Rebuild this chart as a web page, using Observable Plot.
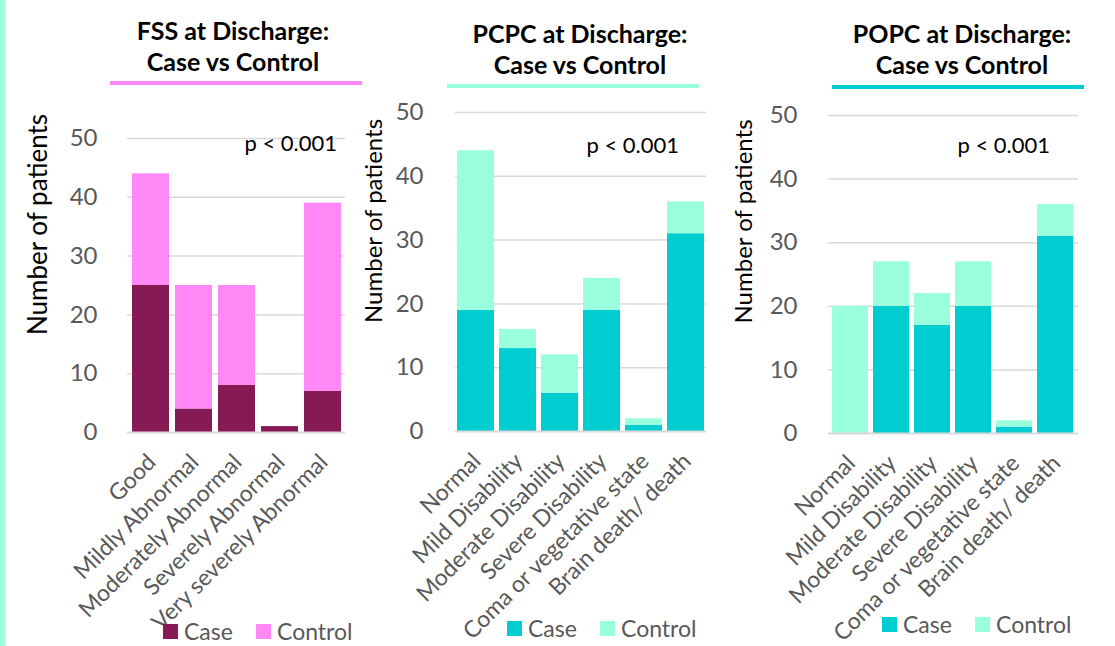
<!DOCTYPE html>
<html><head><meta charset="utf-8">
<script src="https://cdn.jsdelivr.net/npm/d3@7"></script>
<script src="https://cdn.jsdelivr.net/npm/@observablehq/plot@0.6"></script>
<style>
body{margin:0;background:#fff;}
#root{position:relative;width:1115px;height:646px;overflow:hidden;font-family:Lato,"Open Sans",sans-serif;}
.stripe{position:absolute;left:0;top:0;width:5px;height:646px;background:#99FFDD;}
.title{position:absolute;width:320px;text-align:center;font-weight:700;font-size:25px;line-height:31px;color:#000;white-space:nowrap;}
.uline{position:absolute;height:4px;}
.plotbox{position:absolute;top:0;}
.legend{position:absolute;display:flex;align-items:center;font-size:23px;line-height:18px;height:18px;color:#595959;white-space:nowrap;}
.legend .sw{width:15px;height:15px;display:inline-block;}
</style></head>
<body><div id="root"><div class="stripe"></div></div>
<script>
// ---- data ----
const seriesNames = ["Case", "Control"];
const yTicks = [0, 10, 20, 30, 40, 50];
const yLabel = "Number of patients";
const pText = "p < 0.001";

const fssTitle = ["FSS at Discharge:", "Case vs Control"];
const fssCategories = ["Good", "Mildly Abnormal", "Moderately Abnormal", "Severely Abnormal", "Very severely Abnormal"];
const fssCase = [25, 4, 8, 1, 7];
const fssControl = [19, 21, 17, 0, 32];

const outcomeCategories = ["Normal", "Mild Disability", "Moderate Disability", "Severe Disability", "Coma or vegetative state", "Brain death/ death"];

const pcpcTitle = ["PCPC at Discharge:", "Case vs Control"];
const pcpcCase = [19, 13, 6, 19, 1, 31];
const pcpcControl = [25, 3, 6, 5, 1, 5];

const popcTitle = ["POPC at Discharge:", "Case vs Control"];
const popcCase = [0, 20, 17, 20, 1, 31];
const popcControl = [20, 7, 5, 7, 1, 5];

const fssColors = ["#861A54", "#FF88F6"];
const outcomeColors = ["#00CDD0", "#99FFDD"];

// ---- layout ----
const panels = [
  {title: fssTitle, categories: fssCategories, caseV: fssCase, controlV: fssControl, colors: fssColors,
   underline: "#FF88F6", titleCx: 233, titleTop: 15, ulLeft: 110, ulTop: 81,
   left: 0, width: 372, mLeft: 127, mRight: 27, mTop: 138, mBottom: 214,
   pIn: 0.14, pOut: 0.07, tickPad: 30, labDx: -89, labDy: -61, labSize: 26, pDx: 117, pDy: 5,
   legY: 623, legCase: 163, legControl: 256},
  {title: pcpcTitle, categories: outcomeCategories, caseV: pcpcCase, controlV: pcpcControl, colors: outcomeColors,
   underline: "#99FFDD", titleCx: 580, titleTop: 18, ulLeft: 447, ulTop: 84,
   left: 340, width: 390, mLeft: 115, mRight: 24, mTop: 112, mBottom: 215,
   pIn: 0.13, pOut: 0.053, tickPad: 32, labDx: -81, labDy: -51, labSize: 24, pDx: 131, pDy: 33,
   legY: 620, legCase: 507, legControl: 600},
  {title: popcTitle, categories: outcomeCategories, caseV: popcCase, controlV: popcControl, colors: outcomeColors,
   underline: "#00CDD0", titleCx: 962, titleTop: 18, ulLeft: 832, ulTop: 85,
   left: 720, width: 395, mLeft: 108, mRight: 37, mTop: 115, mBottom: 213,
   pIn: 0.12, pOut: 0.065, tickPad: 31, labDx: -84, labDy: -53, labSize: 24, pDx: 129, pDy: 30,
   legY: 616, legCase: 882, legControl: 975}
];

const root = document.getElementById("root");

for (const p of panels) {
  const data = p.categories.flatMap((c, i) => [
    {category: c, series: seriesNames[0], value: p.caseV[i]},
    {category: c, series: seriesNames[1], value: p.controlV[i]}
  ]);

  const chart = Plot.plot({
    width: p.width, height: 646,
    marginLeft: p.mLeft, marginRight: p.mRight, marginTop: p.mTop, marginBottom: p.mBottom,
    style: {background: "transparent", fontFamily: "Lato, 'Open Sans', sans-serif", overflow: "visible"},
    x: {domain: p.categories, paddingInner: p.pIn, paddingOuter: p.pOut, axis: null},
    y: {domain: [0, 50], axis: null},
    color: {domain: seriesNames, range: p.colors},
    marks: [
      Plot.ruleY(yTicks.filter(t => t > 0), {stroke: "#d9d9d9", strokeWidth: 1.5}),
      Plot.barY(data, {x: "category", y: "value", fill: "series"}),
      Plot.ruleY([0], {stroke: "#d9d9d9", strokeWidth: 2}),
      Plot.axisY({ticks: yTicks, tickSize: 0, tickPadding: p.tickPad, fontSize: 24, color: "#595959", label: null}),
      Plot.text(p.categories, {x: d => d, frameAnchor: "bottom", rotate: -45, textAnchor: "end", lineAnchor: "middle", dx: 1, dy: 26, fontSize: 23, fill: "#595959"}),
      Plot.text([yLabel], {frameAnchor: "left", rotate: -90, textAnchor: "middle", lineAnchor: "middle", dx: p.labDx, dy: p.labDy, fontSize: p.labSize, fill: "#000"}),
      Plot.text([pText], {frameAnchor: "top-left", textAnchor: "start", lineAnchor: "middle", dx: p.pDx, dy: p.pDy, fontSize: 22, fill: "#000"})
    ]
  });
  const box = document.createElement("div");
  box.className = "plotbox";
  box.style.left = p.left + "px";
  box.appendChild(chart);
  root.appendChild(box);

  const t = document.createElement("div");
  t.className = "title";
  t.style.left = (p.titleCx - 160) + "px";
  t.style.top = p.titleTop + "px";
  t.innerHTML = p.title.join("<br>");
  root.appendChild(t);

  const u = document.createElement("div");
  u.className = "uline";
  u.style.left = p.ulLeft + "px";
  u.style.width = "252px";
  u.style.top = p.ulTop + "px";
  u.style.background = p.underline;
  root.appendChild(u);

  seriesNames.forEach((name, i) => {
    const lg = document.createElement("div");
    lg.className = "legend";
    lg.style.left = (i === 0 ? p.legCase : p.legControl) + "px";
    lg.style.top = (p.legY - 1) + "px";
    const sw = document.createElement("span");
    sw.className = "sw";
    sw.style.background = p.colors[i];
    const tx = document.createElement("span");
    tx.textContent = name;
    tx.style.marginLeft = "6px";
    lg.appendChild(sw);
    lg.appendChild(tx);
    root.appendChild(lg);
  });
}
</script>
</body></html>
